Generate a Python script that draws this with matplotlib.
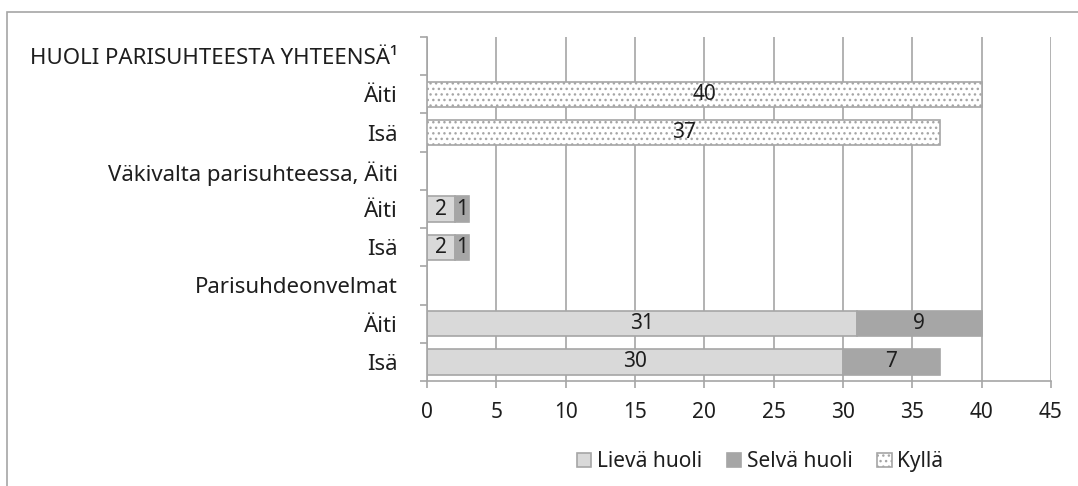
import numpy as np
import matplotlib.pyplot as plt
from matplotlib.patches import Rectangle

plt.rcParams['font.family'] = ['Noto Sans', 'DejaVu Sans']
plt.rcParams['hatch.color'] = '#a6a6a6'
plt.rcParams['hatch.linewidth'] = 1.0

# data
labels = ['HUOLI PARISUHTEESTA YHTEENSÄ¹', 'Äiti', 'Isä',
          'Väkivalta parisuhteessa, Äiti', 'Äiti', 'Isä',
          'Parisuhdeonvelmat', 'Äiti', 'Isä']
lieva = [0, 0, 0, 0, 2, 2, 0, 31, 30]
selva = [0, 0, 0, 0, 1, 1, 0, 9, 7]
kylla = [0, 40, 37, 0, 0, 0, 0, 0, 0]
series_names = ['Lievä huoli', 'Selvä huoli', 'Kyllä']

text_col = '#1e1e1e'
grid_col = '#a6a6a6'
fs = 16
fs_small = 15

fig = plt.figure(figsize=(10.78, 4.86), dpi=100)
ax = fig.add_axes([427 / 1078, 1 - 381 / 486, (1051 - 427) / 1078, (381 - 37) / 486])

y = np.arange(len(labels))
h = 0.66
lieva = np.array(lieva)
selva = np.array(selva)
kylla = np.array(kylla)

b1 = ax.barh(y, lieva, height=h, color='#d9d9d9', edgecolor='#a6a6a6', lw=1.2, label=series_names[0], zorder=3)
b2 = ax.barh(y, selva, left=lieva, height=h, color='#a6a6a6', edgecolor='#a6a6a6', lw=1.2, label=series_names[1], zorder=3)
b3 = ax.barh(y, kylla, height=h, color='white', edgecolor='#a6a6a6', hatch='...', lw=1.2, label=series_names[2], zorder=3)

for i in range(len(labels)):
    if lieva[i] > 0:
        ax.text(lieva[i] / 2, y[i], str(lieva[i]), ha='center', va='center', fontsize=fs_small, color=text_col, zorder=5)
    if selva[i] > 0:
        ax.text(lieva[i] + selva[i] / 2, y[i], str(selva[i]), ha='center', va='center', fontsize=fs_small, color=text_col, zorder=5)
    if kylla[i] > 0:
        ax.text(kylla[i] / 2, y[i], str(kylla[i]), ha='center', va='center', fontsize=fs_small, color=text_col, zorder=5)

ax.set_xlim(0, 45)
ax.set_xticks(range(0, 46, 5))
ax.set_ylim(len(labels) - 0.5, -0.5)
ax.set_yticks(y)
ax.set_yticklabels(labels)
ax.set_yticks(np.arange(-0.5, len(labels)), minor=True)
ax.tick_params(axis='y', which='major', length=0, pad=21, labelsize=fs, labelcolor=text_col)
ax.tick_params(axis='y', which='minor', length=5, color=grid_col, width=1.2)
ax.tick_params(axis='x', length=5, color=grid_col, width=1.2, pad=10, labelsize=fs_small, labelcolor=text_col)
ax.grid(axis='x', color=grid_col, lw=1.2, zorder=0)
for s in ['top', 'right']:
    ax.spines[s].set_visible(False)
for s in ['left', 'bottom']:
    ax.spines[s].set_color(grid_col)
    ax.spines[s].set_linewidth(1.2)

fig.legend(handles=[b1, b2, b3], labels=series_names, loc='center', bbox_to_anchor=(0.705, 0.05), ncol=3,
           frameon=False, fontsize=fs_small, handlelength=0.7, handleheight=0.7, handletextpad=0.25, columnspacing=1.2,
           labelcolor=text_col)

# outer frame
fig.patches.append(Rectangle((7 / 1078, -0.1), 1.2, 1.1 - 12 / 486, transform=fig.transFigure,
                             fill=False, edgecolor='#a6a6a6', lw=1.2))

fig.savefig('out.png', dpi=100)
